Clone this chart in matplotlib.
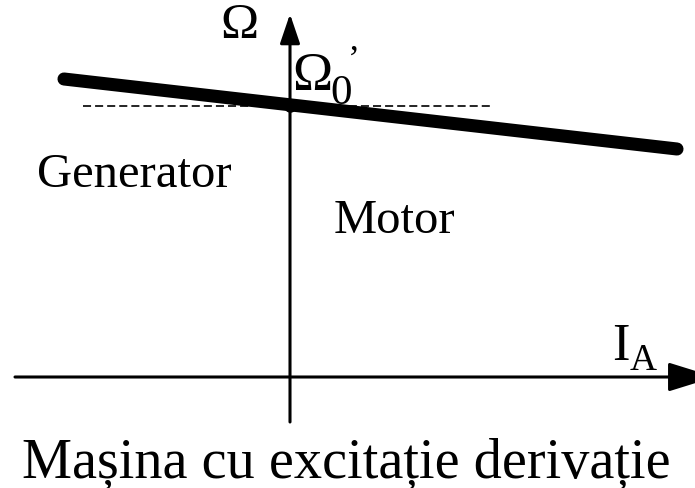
import matplotlib
matplotlib.use("Agg")
import matplotlib.pyplot as plt

# schematic speed characteristic, origin at the axes crossing (1 unit = 1 px)
i_a = [-226, 387]          # armature current at both ends of the characteristic
omega = [298, 228]         # speed at those currents
omega0 = 271               # ideal no-load speed level (dashed)
i_dash = [-207, 202]       # extent of the dashed reference line
axis_x = [-275, 425]       # horizontal axis, start -> arrow tip
axis_y = [-45, 363]        # vertical axis, start -> arrow tip

plt.rcParams["font.family"] = ["Liberation Serif", "DejaVu Serif"]
plt.rcParams["lines.scale_dashes"] = False

fig = plt.figure(figsize=(6.95, 4.89), dpi=100)
ax = fig.add_axes([0, 0, 1, 1])
ax.set_xlim(-290, 405)
ax.set_ylim(-111, 378)
ax.axis("off")


def px(x, y):
    # layout helper: image pixel -> data coords
    return x - 290, 378 - y


# axes with arrows
ax.annotate("", xy=(axis_x[1], 0), xytext=(axis_x[0], 0), annotation_clip=False,
            arrowprops=dict(arrowstyle="-|>,head_length=29,head_width=9",
                            mutation_scale=1, lw=2.2, color="black",
                            shrinkA=0, shrinkB=0))
ax.annotate("", xy=(0, axis_y[1]), xytext=(0, axis_y[0]), annotation_clip=False,
            arrowprops=dict(arrowstyle="-|>,head_length=18,head_width=6.1",
                            mutation_scale=1, lw=2.2, color="black",
                            shrinkA=0, shrinkB=0))

ax.plot(i_dash, [omega0, omega0], color="black", lw=1.2, dashes=(5.8, 2.9))
ax.plot(i_a, omega, color="black", lw=9.4, solid_capstyle="round")
ax.plot([0], [omega0], "o", color="black", ms=8)

txt = dict(color="black", va="baseline", ha="left")
ax.text(*px(220, 38), "\u03a9", fontsize=37, **txt)
ax.text(*px(292, 90), "\u03a9", fontsize=39, **txt)
ax.text(*px(330, 104), "0", fontsize=31, **txt)
ax.text(*px(348, 70), "\u2019", fontsize=26, **txt)
ax.text(*px(37, 187), "Generator", fontsize=35, **txt)
ax.text(*px(334, 233), "Motor", fontsize=35, **txt)
ax.text(*px(612, 360), "I", fontsize=38, **txt)
ax.text(*px(630, 370), "A", fontsize=27, **txt)
ax.text(*px(22, 478), "Ma\u0219ina cu excita\u021bie deriva\u021bie", fontsize=40.5, **txt)

fig.savefig("out.png", dpi=100)
